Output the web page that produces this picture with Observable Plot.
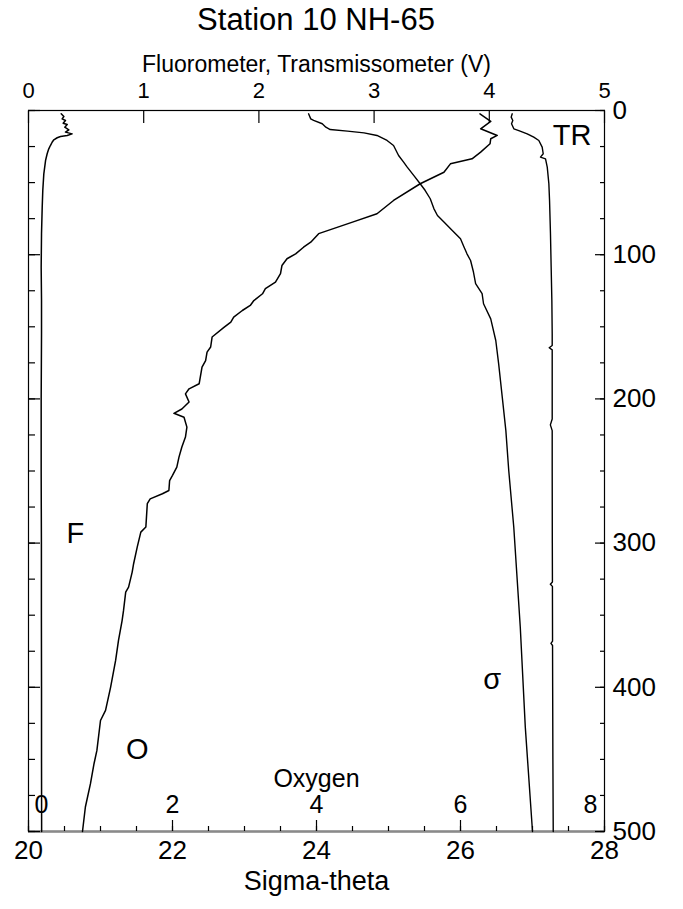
<!DOCTYPE html>
<html><head><meta charset="utf-8">
<script src="https://cdn.jsdelivr.net/npm/d3@7"></script>
<script src="https://cdn.jsdelivr.net/npm/@observablehq/plot@0.6"></script>
<style>
html,body{margin:0;padding:0;background:#fff;}
body{width:683px;height:909px;overflow:hidden;font-family:"Liberation Sans",Arial,sans-serif;color:#000;}
#title{width:632px;height:38px;line-height:40px;font-size:31px;text-align:center;white-space:nowrap;}
svg{overflow:visible;}
</style></head><body>
<div id="title">Station 10 NH-65</div>
<div id="chart"></div>
<script>
// ---- Data (depth in m) ----
// Fluorometer (V)
const fDepth = [2.3,4.2,5.8,6.9,8.8,9.7,11.6,13.4,15,16.2,17.3,18,18.9,20.3,22,24.3,26.6,30,34.7,43.9,55.5,67,85.5,108.7,131.8,154.9,200,250,300,350,400,450,500];
const fVal   = [0.284,0.307,0.292,0.321,0.301,0.336,0.315,0.35,0.321,0.379,0.336,0.278,0.249,0.22,0.205,0.19,0.176,0.162,0.148,0.133,0.124,0.119,0.113,0.110,0.113,0.113,0.110,0.110,0.112,0.112,0.113,0.113,0.114];
// Transmissometer (V)
const trDepth = [2.3,4.6,6.9,9.2,12.7,13.9,16.2,18.5,20.8,25.4,30,32.3,33.5,39.3,50.8,62.4,85.5,108.7,131.8,155,163,164.5,166,214,218,222,250,300,327,328.5,330,368,369.5,371,400,450,500];
const trVal   = [4.199,4.19,4.204,4.193,4.213,4.256,4.329,4.386,4.43,4.459,4.468,4.444,4.488,4.503,4.517,4.523,4.531,4.537,4.543,4.546,4.546,4.52,4.546,4.546,4.53,4.546,4.546,4.547,4.548,4.53,4.548,4.549,4.535,4.549,4.55,4.552,4.555];
// Sigma-theta
const sDepth = [2.3,5.8,6.9,9.2,11.6,13.2,14.3,15.5,17.3,20.8,24.3,31.2,35.8,39.3,45,50.8,55.5,61.2,68,72.8,77.4,84.4,89,94.8,99.4,104,112,120,127,134,144.5,159.5,175.7,198.8,222,249.7,289,358,427.6,500];
const sVal   = [23.89,23.92,23.96,24.08,24.13,24.19,24.43,24.66,24.84,24.98,25.07,25.14,25.21,25.26,25.35,25.44,25.51,25.58,25.63,25.68,25.77,25.91,26.0,26.05,26.09,26.14,26.18,26.21,26.30,26.32,26.42,26.49,26.53,26.58,26.63,26.67,26.74,26.83,26.90,27.0];
// Oxygen
const oDepth = [2.3,7.6,12.7,17.3,19.6,23.1,28.9,33.5,37,42.8,50.8,62.4,71.6,77.4,85.4,91.3,94.8,99.4,102.8,107.5,113.2,119,123.6,127.1,131.8,135.2,138.7,143.3,146.7,150.6,157.1,164,167.6,173.4,178,189.5,193,196.5,202.2,207,210,212.7,219.6,226.5,233.4,240.4,247.3,253,256.6,263.5,265.8,269.3,272.7,288.9,292.4,302.8,314.3,320.1,330.5,334,346.7,353.7,367.5,381.4,400,416,423,443.8,453,467,483,500];
const oVal   = [6.27,6.42,6.28,6.51,6.42,6.41,6.28,6.16,5.86,5.77,5.44,5.07,4.84,4.50,4.03,3.92,3.82,3.71,3.59,3.52,3.50,3.43,3.29,3.25,3.13,3.08,2.97,2.85,2.81,2.71,2.55,2.53,2.48,2.46,2.41,2.37,2.23,2.18,2.23,2.13,2.02,2.16,2.20,2.18,2.13,2.09,2.06,2.0,1.96,1.95,1.86,1.69,1.65,1.63,1.56,1.51,1.46,1.44,1.39,1.35,1.32,1.30,1.25,1.21,1.14,1.07,1.0,0.95,0.91,0.86,0.79,0.75];

// Tick values
const voltTicks = [0,1,2,3,4,5];
const sigmaLabels = [20,22,24,26,28];
const sigmaMinor = d3.range(20, 28.01, 0.5);
const oxyLabels = [0,2,4,6,8];
const depthLabels = [0,100,200,300,400,500];
const depthMinor = d3.range(0, 501, 25);

// Curve annotations (text, anchor in sigma units / depth)
const annText = ["TR","F","\u03c3","O"];
const annSigma = [27.55,20.65,26.44,21.51];
const annDepth = [17.3,293.3,394.6,443.1];

// ---- Mappings onto the shared horizontal scale (sigma-theta 20..28) ----
const volt = v => 20 + v * 1.6;   // 0..5 V  -> 20..28
const oxy  = v => 20 + v;         // 0..8    -> 20..28

const fData  = fDepth.map((d,i) => ({depth:d, v:fVal[i]}));
const trData = trDepth.map((d,i) => ({depth:d, v:trVal[i]}));
const sData  = sDepth.map((d,i) => ({depth:d, v:sVal[i]}));
const oData  = oDepth.map((d,i) => ({depth:d, v:oVal[i]}));
const ann = annText.map((t,i) => ({t, x:annSigma[i], y:annDepth[i]}));

const tickStyle = {stroke:"black", strokeWidth:1.2, label:null};
const plot = Plot.plot({
  width: 683, height: 871,
  marginTop: 72, marginBottom: 78, marginLeft: 28, marginRight: 79,
  style: {fontFamily:"'Liberation Sans', Arial, sans-serif", background:"white", color:"black", overflow:"visible"},
  x: {domain:[20,28], axis:null},
  y: {domain:[0,500], reverse:true, axis:null},
  marks: [
    Plot.frame({stroke:"black", strokeWidth:1.2}),
    Plot.ruleY([500], {stroke:"#8a8a8a", strokeWidth:2.5}),
    // bottom (sigma) ticks
    Plot.axisX({...tickStyle, anchor:"bottom", ticks:sigmaMinor, tickSize:-5, tickFormat:()=>""}),
    Plot.axisX({...tickStyle, anchor:"bottom", ticks:sigmaLabels, tickSize:-11, tickFormat:()=>""}),
    Plot.axisX({label:null, anchor:"bottom", ticks:sigmaLabels, tickSize:0, tickPadding:9, fontSize:26, tickFormat:d=>String(d)}),
    // top (volts) ticks
    Plot.axisX({...tickStyle, anchor:"top", ticks:voltTicks.map(volt), tickSize:-12, tickFormat:()=>""}),
    Plot.axisX({label:null, anchor:"top", ticks:voltTicks.map(volt), tickSize:0, tickPadding:13, fontSize:22, tickFormat:d=>String(Math.round((d-20)/1.6))}),
    // right depth axis
    Plot.axisY({...tickStyle, anchor:"right", ticks:depthMinor, tickSize:-5, tickFormat:()=>""}),
    Plot.axisY({...tickStyle, anchor:"right", ticks:depthLabels, tickSize:-10, tickFormat:()=>""}),
    Plot.axisY({label:null, anchor:"right", ticks:depthLabels, tickSize:0, tickPadding:8, fontSize:26, tickFormat:d=>String(d)}),
    // left ticks
    Plot.axisY({...tickStyle, anchor:"left", ticks:depthMinor, tickSize:-7, tickFormat:()=>""}),
    Plot.axisY({...tickStyle, anchor:"left", ticks:depthLabels, tickSize:-12, tickFormat:()=>""}),
    // oxygen inner axis labels
    Plot.text(oxyLabels.slice(1,-1), {x:oxy, frameAnchor:"bottom", dy:-19, fontSize:25, text:d=>String(d)}),
    Plot.text(oxyLabels.slice(0,1), {x:oxy, frameAnchor:"bottom", dy:-19, dx:13, fontSize:25, text:d=>String(d)}),
    Plot.text(oxyLabels.slice(-1), {x:oxy, frameAnchor:"bottom", dy:-19, dx:-14, fontSize:25, text:d=>String(d)}),
    Plot.text(["Oxygen"], {frameAnchor:"bottom", dy:-45, fontSize:25}),
    Plot.text(["Sigma-theta"], {frameAnchor:"bottom", dy:58, fontSize:27}),
    Plot.text(["Fluorometer, Transmissometer (V)"], {frameAnchor:"top", dy:-55, fontSize:23}),
    // profiles
    Plot.line(fData,  {x:d=>volt(d.v), y:"depth", stroke:"black", strokeWidth:1.5}),
    Plot.line(trData, {x:d=>volt(d.v), y:"depth", stroke:"black", strokeWidth:1.4}),
    Plot.line(sData,  {x:"v", y:"depth", stroke:"black", strokeWidth:1.4}),
    Plot.line(oData,  {x:d=>oxy(d.v), y:"depth", stroke:"black", strokeWidth:1.5}),
    // labels on curves
    Plot.text(ann, {x:"x", y:"y", text:"t", fontSize:29})
  ]
});
document.getElementById("chart").appendChild(plot);
</script>
</body></html>
